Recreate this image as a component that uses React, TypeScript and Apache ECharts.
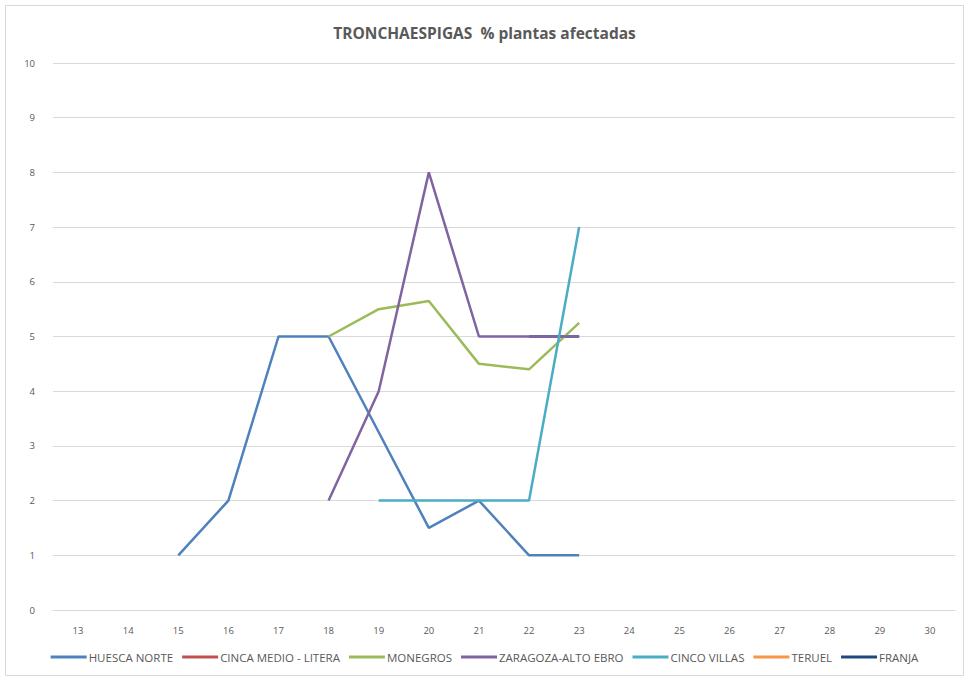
import React, { useEffect, useRef } from "react";
import * as echarts from "echarts";

const categories = ["13","14","15","16","17","18","19","20","21","22","23","24","25","26","27","28","29","30"];
const huescaNorte = [null, null, 1, 2, 5, 5, 3.25, 1.5, 2, 1, 1, null, null, null, null, null, null, null];
const cincaMedio = [null, null, null, null, null, null, null, null, null, null, null, null, null, null, null, null, null, null];
const monegros = [null, null, null, null, null, 5, 5.5, 5.65, 4.5, 4.4, 5.25, null, null, null, null, null, null, null];
const zaragoza = [null, null, null, null, null, 2, 4, 8, 5, 5, 5, null, null, null, null, null, null, null];
const cincoVillas = [null, null, null, null, null, null, 2, 2, 2, 2, 7, null, null, null, null, null, null, null];
const teruel = [null, null, null, null, null, null, null, null, null, null, null, null, null, null, null, null, null, null];
const franja = [null, null, null, null, null, null, null, null, null, 5, 5, null, null, null, null, null, null, null];

const seriesDefs = [
  { name: "HUESCA NORTE", data: huescaNorte, color: "#4F81BD", z: 3 },
  { name: "CINCA MEDIO - LITERA", data: cincaMedio, color: "#C0504D", z: 3 },
  { name: "MONEGROS", data: monegros, color: "#9BBB59", z: 3 },
  { name: "ZARAGOZA-ALTO EBRO", data: zaragoza, color: "#8064A2", z: 4 },
  { name: "CINCO VILLAS", data: cincoVillas, color: "#4BACC6", z: 5 },
  { name: "TERUEL", data: teruel, color: "#F79646", z: 3 },
  { name: "FRANJA", data: franja, color: "#1F497D", z: 2 },
];

export default function App() {
  const ref = useRef<HTMLDivElement>(null);
  useEffect(() => {
    document.body.style.margin = "0";
    const chart = echarts.init(ref.current!, null, { renderer: "svg" });
    const font = "'Open Sans', 'Liberation Sans', sans-serif";
    chart.setOption({
      animation: false,
      backgroundColor: "#ffffff",
      textStyle: { fontFamily: font },
      title: {
        text: "TRONCHAESPIGAS  % plantas afectadas",
        left: "center",
        top: 20,
        textStyle: { fontSize: 15.5, fontWeight: "bold", color: "#595959", fontFamily: font },
      },
      graphic: [
        {
          type: "rect",
          shape: { x: 5.5, y: 5.5, width: 958, height: 670 },
          style: { fill: "none", stroke: "#D9D9D9", lineWidth: 1 },
          silent: true,
        },
      ],
      legend: {
        bottom: 13,
        left: "center",
        icon: "rect",
        itemWidth: 36,
        itemHeight: 3,
        itemGap: 9,
        textStyle: { fontSize: 11.5, color: "#595959", padding: [0, 0, 0, -3] },
        data: seriesDefs.map((s) => s.name),
      },
      grid: { left: 53, right: 14, top: 63, bottom: 71, containLabel: false },
      xAxis: {
        type: "category",
        data: categories,
        boundaryGap: true,
        axisLine: { lineStyle: { color: "#D9D9D9" } },
        axisTick: { show: false },
        axisLabel: { fontSize: 9.5, color: "#595959", margin: 15 },
      },
      yAxis: {
        type: "value",
        min: 0,
        max: 10,
        interval: 1,
        axisLine: { show: false },
        axisTick: { show: false },
        axisLabel: { fontSize: 9.5, color: "#595959", margin: 18 },
        splitLine: { lineStyle: { color: "#D9D9D9" } },
      },
      series: seriesDefs.map((s) => ({
        name: s.name,
        type: "line",
        data: s.data,
        z: s.z,
        showSymbol: false,
        symbol: "none",
        connectNulls: false,
        lineStyle: { width: 2.5, color: s.color },
        itemStyle: { color: s.color },
      })),
    });
    return () => chart.dispose();
  }, []);
  return <div ref={ref} style={{ width: 969, height: 681 }} />;
}
